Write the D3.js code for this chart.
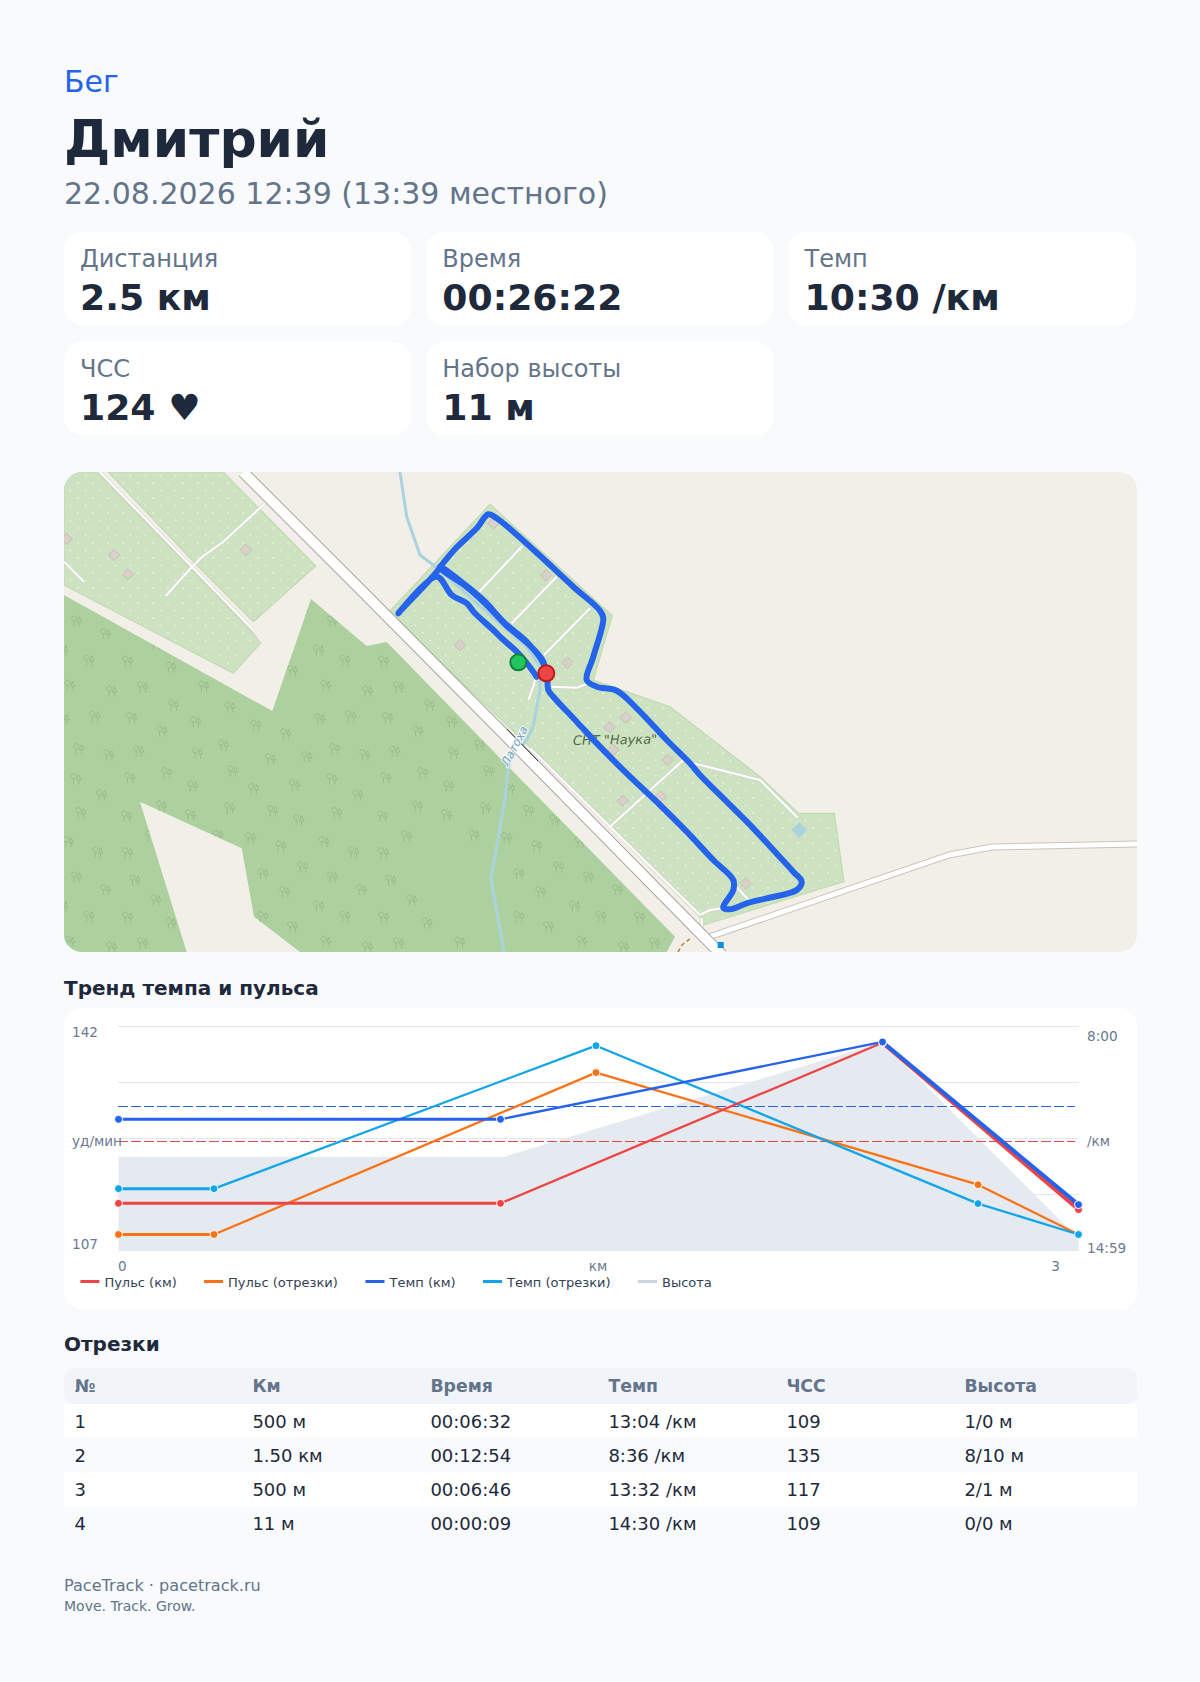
<!DOCTYPE html>
<html lang="ru">
<head>
<meta charset="utf-8">
<script src="https://cdn.jsdelivr.net/npm/d3@7"></script>
<style>
  html, body { margin: 0; padding: 0; background: #f8fafc; }
  svg { display: block; font-family: "DejaVu Sans", sans-serif; }
</style>
</head>
<body>
<div id="page"></div>
<script>
// summary
const sport = "Бег";
const athlete = "Дмитрий";
const startedAt = "22.08.2026 12:39 (13:39 местного)";
const statLabels = ["Дистанция", "Время", "Темп", "ЧСС", "Набор высоты"];
const statValues = ["2.5 км", "00:26:22", "10:30 /км", "124 ♥", "11 м"];

// trend chart
const kmDistance = [0, 1, 2, 2.513];
const pulseByKm = [114, 114, 139.8, 113];
const paceByKm = [654, 654, 509, 814];
const lapDistance = [0, 0.25, 1.25, 2.25, 2.513];
const pulseByLap = [109, 109, 135, 117, 109];
const paceByLap = [784, 784, 516, 812, 870];
const elevationDistance = [0, 1.01, 2, 2.513];
const elevation = [9, 9, 20, 1.15];
const avgPulse = 124;
const avgPace = 630;
const gridTicks = [0, 1, 2, 3, 4];
const legendLabels = ["Пульс (км)", "Пульс (отрезки)", "Темп (км)", "Темп (отрезки)", "Высота"];

// laps table
const lapHeaders = ["№", "Км", "Время", "Темп", "ЧСС", "Высота"];
const lapRows = [
  ["1", "500 м", "00:06:32", "13:04 /км", "109", "1/0 м"],
  ["2", "1.50 км", "00:12:54", "8:36 /км", "135", "8/10 м"],
  ["3", "500 м", "00:06:46", "13:32 /км", "117", "2/1 м"],
  ["4", "11 м", "00:00:09", "14:30 /км", "109", "0/0 м"],
];

// map geometry, in the map's own coordinates
const forest = [[64,595],[64,952],[186.7,952],[140,801.7],[241.7,848.3],[254,916.7],[300,952],[666.7,952],[675,936.7],[500,758],[386.7,642],[366.7,646],[311,599],[272.3,711]];
const allotmentWest = [[64,472],[97,472],[253,633],[260.7,643.3],[233.3,673.3],[64,585]];
const allotmentNorth = [[108.3,472],[223.3,472],[315.7,566],[253.3,621.7],[196.7,565]];
const allotmentMain = [[387.7,613.3],[490,504.3],[612.3,615.7],[593.3,680],[670,706.7],[760,776.7],[798.3,813.3],[834.3,813.3],[844,881.7],[703.3,925],[700,917],[610,826],[530,747],[393,617]];
const highway = [[243,472],[360,589],[500,730],[700,933],[722,955]];
const mainRoad = [[706,938],[949,855],[992,847],[1140,844]];
const tracks = [
  [[100,472],[253.3,630]],
  [[64,561.7],[84,581.7]],
  [[266.7,501.7],[223.3,541.7],[201.7,557.3],[190,569],[165.7,596]],
  [[522.3,546],[479.3,591.7]],
  [[556.7,576.7],[511.7,623.3]],
  [[590,608.3],[544,655]],
  [[551.7,686.7],[576.7,687.7],[586.7,684]],
  [[535,680],[533.3,686.7],[528.3,700]],
  [[530,748.3],[610,826.7],[700,915]],
  [[610,826.7],[683.3,760],[693.3,763.3],[760,780],[797.7,817.7]],
  [[700,915],[710,910],[721.7,908.3]],
  [[701.7,918.3],[702.3,931.7]],
  [[733.3,883.3],[750,901.7]],
];
const stream = [[400,472],[406.7,516.7],[420,555],[440,570],[473,600],[526.7,646.7],[540,666.7],[540,690],[533,726.7],[526.7,740],[510,760],[508,770],[505,799],[491,879],[504,952]];
const buildings = [[66.7,539],[114,555],[128,574.3],[246,550],[493.3,523.3],[546,575.3],[567.3,662.7],[460,645],[625.7,717.7],[609.3,727.3],[613.3,750],[667.7,760],[660.7,796.7],[622.7,800.7],[745.7,883.3]];
const track = [[536.7,676.7],[528.3,665],[516.7,651.7],[501.7,638.3],[493.3,630],[475,613.3],[466.7,603.3],[451.7,595],[436.7,576.7],[398.3,613.3],[435,574],[441.7,565],[456.7,547.3],[476.7,528.3],[488.3,514.3],[496.7,518.3],[513.3,531.7],[541.7,557.3],[573.3,586.7],[600,610.7],[603.3,618.3],[593.3,656.7],[586.7,680],[596.7,686.7],[616.7,690.7],[636.7,708.3],[666.7,740],[690,763.3],[700,775],[726.7,801.7],[753.3,828.3],[773.3,850],[793.3,871.7],[801.7,881.7],[796.7,890],[766.7,898.3],[746.7,903.3],[730,909.3],[723.3,907.7],[733.3,890],[733.3,880],[713.3,860],[686.7,831.7],[660,805],[630,776.7],[600,746.7],[576.7,721.7],[553.3,696.7],[548.3,690],[547.3,680],[543.3,663.3],[526.7,641.7],[505,623.3],[483.3,600],[463.3,583.3],[440,566.7],[441,569],[465,585.7],[485,603.3],[506.7,625.7],[528.3,644],[543.3,661.7],[545,673.3]];
const trackStart = [518.3,662.3];
const trackEnd = [546.3,673.3];
// one 256-unit tile of the forest symbols
const treeTile = [[12.7,5],[41.7,17.7],[25,44],[63.7,45],[107,51],[6,69.3],[47.7,75],[78.7,71],[140,70],[109.7,89],[166,91],[31,100],[67.7,101.7],[0,102.7],[131.7,105.7],[192,109],[98,115],[222,117.7],[14.7,132.7],[45,138.7],[74.7,135],[133.7,137],[159.7,129],[206.7,142.7],[242.7,140.7],[12,162.7],[66,161.7],[102.7,156.7],[168.7,155],[128.7,170],[189.7,172.7],[230.7,169],[37.7,179],[16.7,196.7],[62.7,200],[97.7,190],[126.7,198.7],[165.7,192],[208.7,194.7],[234.7,203.7],[4.3,225.7],[154,219.3],[186.7,221.7],[216.7,230],[33.7,236],[63.7,236.7],[86.7,220],[238.7,250.7],[199,1.7],[221,19.7],[71,8],[92,28],[199,44.7],[228.7,54.7],[255,34]];

const colors = { pulse: "#ef4444", pulseLap: "#f97316", pace: "#2563eb", paceLap: "#0ea5e9", elevation: "#cbd5e1" };
const ink = "#1e293b";
const muted = "#64748b";

const svg = d3.select("#page").append("svg").attr("width", 1200).attr("height", 1682);
svg.append("rect").attr("width", 1200).attr("height", 1682).attr("fill", "#f8fafc");

function label(parent, x, y, text, size, fill, weight) {
  return parent.append("text").attr("x", x).attr("y", y).attr("font-size", size)
    .attr("fill", fill).attr("font-weight", weight || "normal").text(text);
}

function drawHeader() {
  label(svg, 64, 91.5, sport, 30, colors.pace);
  label(svg, 64, 157, athlete, 52, ink, "bold");
  label(svg, 64, 204, startedAt, 30, muted);

  const col = d3.scaleBand().domain(d3.range(3)).range([64, 1135.6]).paddingInner(0.0422);
  statLabels.forEach((name, i) => {
    const g = svg.append("g").attr("transform", `translate(${col(i % 3)},${i < 3 ? 232 : 342})`);
    g.append("rect").attr("width", col.bandwidth()).attr("height", 93).attr("rx", 18).attr("fill", "#fff");
    label(g, 16, 35, name, 24, muted);
    label(g, 16, 78, statValues[i], 36.2, ink, "bold");
  });
}

function drawMap() {
  const x = d3.scaleLinear().domain([64, 1137]).range([64, 1137]);
  const y = d3.scaleLinear().domain([472, 952]).range([472, 952]);
  const line = d3.line().x((d) => x(d[0])).y((d) => y(d[1]));
  const shape = (pts) => line(pts) + "Z";

  const defs = svg.append("defs");
  defs.append("clipPath").attr("id", "map-clip").append("rect")
    .attr("x", 64).attr("y", 472).attr("width", 1073).attr("height", 480).attr("rx", 18);
  defs.append("clipPath").attr("id", "forest-clip").append("path").attr("d", shape(forest));
  const dots = defs.append("pattern").attr("id", "allotment-dots").attr("patternUnits", "userSpaceOnUse")
    .attr("width", 15).attr("height", 15);
  dots.append("rect").attr("width", 15).attr("height", 15).attr("fill", "#cde2c0");
  [[3, 3], [10.5, 10.5]].forEach((p) => {
    dots.append("rect").attr("x", p[0] - 0.8).attr("y", p[1] - 0.8).attr("width", 1.6).attr("height", 1.6).attr("fill", "#eaf4e3");
  });

  const g = svg.append("g").attr("clip-path", "url(#map-clip)");
  g.append("rect").attr("x", 64).attr("y", 472).attr("width", 1073).attr("height", 480).attr("fill", "#f2efe9");

  g.append("path").attr("d", shape(forest)).attr("fill", "#add19e");
  const trees = g.append("g").attr("clip-path", "url(#forest-clip)").attr("fill", "none")
    .attr("stroke", "#93b887").attr("stroke-width", 0.8);
  d3.range(-1, 3).forEach((i) => d3.range(-1, 2).forEach((j) => {
    trees.selectAll(null).data(treeTile).join("path")
      .attr("transform", (d) => `translate(${x(64 + d[0] + i * 256)},${y(616.67 + d[1] + j * 256)})`)
      .attr("d", "M-2.5,5V-0.5M-2.5,-0.5a2.6,2.6 0 1 0 -0.01,0M2.8,5V0.5M2.8,-5L0.6,0.5H5Z");
  }));

  [allotmentWest, allotmentNorth, allotmentMain].forEach((pts) => {
    g.append("path").attr("d", shape(pts)).attr("fill", "url(#allotment-dots)")
      .attr("stroke", "#c2dab2").attr("stroke-width", 1.2);
  });

  g.selectAll(".building").data(buildings).join("rect").attr("class", "building")
    .attr("x", -4).attr("y", -4).attr("width", 8).attr("height", 8)
    .attr("transform", (d) => `translate(${x(d[0])},${y(d[1])}) rotate(45)`)
    .attr("fill", "#d9d0c9").attr("stroke", "#c6b9ae").attr("stroke-width", 0.8);

  g.append("path").attr("d", line(stream)).attr("fill", "none").attr("stroke", "#aad3df").attr("stroke-width", 3);
  g.append("rect").attr("x", -5.5).attr("y", -5.5).attr("width", 11).attr("height", 11).attr("fill", "#aad3df")
    .attr("transform", `translate(${x(799.3)},${y(830)}) rotate(45)`);

  const stroked = (d, w, c) => g.append("path").attr("d", line(d)).attr("fill", "none").attr("stroke", c)
    .attr("stroke-width", w).attr("stroke-linejoin", "round");
  tracks.forEach((t) => stroked(t, 3.2, "#d6d2cc"));
  tracks.forEach((t) => stroked(t, 2, "#fff"));
  stroked(mainRoad, 7, "#c8c5bf");
  stroked(mainRoad, 5, "#fff");
  stroked(highway, 12, "#a9a69f");
  stroked(highway, 10, "#fff");
  stroked([[504, 733], [535, 765]], 1, "#333").attr("transform", "translate(3,-4)");
  stroked([[678, 952], [682, 945], [692, 937]], 1.6, "#b9863a").attr("stroke-dasharray", "4 3");
  g.append("rect").attr("x", x(717.7)).attr("y", y(942)).attr("width", 6).attr("height", 6).attr("fill", "#0092da");

  g.append("text").attr("transform", `translate(${x(518)},${y(748)}) rotate(-62)`).attr("font-size", 11.5)
    .attr("text-anchor", "middle").attr("font-style", "italic").attr("fill", "#6d9fc4")
    .attr("stroke", "#f2f6f2").attr("stroke-width", 2).attr("paint-order", "stroke").text("Латоха");
  g.append("text").attr("transform", `translate(${x(573)},${y(745)}) rotate(-1)`).attr("font-size", 13)
    .attr("font-style", "italic").attr("fill", "#4f6b47").text("СНТ \"Наука\"");

  const trackLine = d3.line().x((d) => x(d[0])).y((d) => y(d[1])).curve(d3.curveCatmullRom.alpha(0.5));
  g.append("path").attr("d", trackLine(track)).attr("fill", "none").attr("stroke", colors.pace)
    .attr("stroke-width", 6).attr("stroke-linejoin", "round").attr("stroke-linecap", "round");
  g.append("circle").attr("cx", x(trackStart[0])).attr("cy", y(trackStart[1])).attr("r", 8)
    .attr("fill", "#22c55e").attr("stroke", "#15803d").attr("stroke-width", 2);
  g.append("circle").attr("cx", x(trackEnd[0])).attr("cy", y(trackEnd[1])).attr("r", 8)
    .attr("fill", "#ef4444").attr("stroke", "#b91c1c").attr("stroke-width", 2);
}

function drawChart() {
  label(svg, 64, 995, "Тренд темпа и пульса", 20, ink, "bold");
  svg.append("rect").attr("x", 64).attr("y", 1008).attr("width", 1073).attr("height", 301).attr("rx", 18).attr("fill", "#fff");

  const x = d3.scaleLinear().domain([0, 2.513]).range([118.5, 1078.5]);
  const yGrid = d3.scaleLinear().domain([0, 4]).range([1026.5, 1250.5]);
  const yPulse = d3.scaleLinear().domain([142.4, 106.43]).range([1026.5, 1250.5]);
  const yPace = d3.scaleLinear().domain([480, 900]).range([1026.5, 1250.5]);
  const yElevation = d3.scaleLinear().domain([0, 21.5]).range([1250.5, 1026.5]);

  svg.selectAll(".grid").data(gridTicks).join("line").attr("class", "grid")
    .attr("x1", 118).attr("x2", 1079).attr("y1", yGrid).attr("y2", yGrid)
    .attr("stroke", "#e2e8f0").attr("stroke-width", 1);

  const area = d3.area().x((d, i) => x(elevationDistance[i])).y0(1250.5).y1((d) => yElevation(d));
  // the band is a flat tint in the original, the grid does not show through it
  svg.append("path").attr("d", area(elevation)).attr("fill", "#e5eaf0");

  const dashed = (yValue, color) => {
    const py = Math.floor(yValue) + 0.5;
    svg.append("line").attr("x1", 118).attr("x2", 1075).attr("y1", py).attr("y2", py)
      .attr("stroke", color).attr("stroke-dasharray", "10 3");
  };
  dashed(yPace(avgPace), colors.pace);
  dashed(yPulse(avgPulse), colors.pulse);

  const series = [
    { xs: lapDistance, ys: pulseByLap, scale: yPulse, color: colors.pulseLap, byKm: false },
    { xs: lapDistance, ys: paceByLap, scale: yPace, color: colors.paceLap, byKm: false },
    { xs: kmDistance, ys: pulseByKm, scale: yPulse, color: colors.pulse, byKm: true },
    { xs: kmDistance, ys: paceByKm, scale: yPace, color: colors.pace, byKm: true },
  ];
  series.forEach((s) => {
    const pts = s.xs.map((d, i) => [x(d), s.scale(s.ys[i])]);
    // flat runs and the closing km segment come out heavier in the original
    d3.pairs(pts).forEach(([a, b], i) => {
      const flat = a[1] === b[1];
      const closing = s.byKm && i === pts.length - 2;
      svg.append("line").attr("x1", a[0]).attr("y1", a[1]).attr("x2", b[0]).attr("y2", b[1])
        .attr("stroke", s.color).attr("stroke-width", closing ? 4 : flat ? 3 : 2.3);
    });
  });
  series.forEach((s) => {
    svg.selectAll(null).data(s.xs).join("circle")
      .attr("cx", (d) => x(d)).attr("cy", (d, i) => s.scale(s.ys[i])).attr("r", 4)
      .attr("fill", s.color).attr("stroke", "#fff").attr("stroke-width", 1);
  });

  const axisColor = "#6b7a90";
  label(svg, 72, 1037, "142", 13.6, axisColor);
  label(svg, 72, 1249, "107", 13.6, axisColor);
  label(svg, 72, 1145.5, "уд/мин", 13.6, axisColor);
  label(svg, 1087, 1041, "8:00", 13.6, axisColor);
  label(svg, 1087, 1145.5, "/км", 13.6, axisColor);
  label(svg, 1087, 1253, "14:59", 13.6, axisColor);
  label(svg, 118, 1271, "0", 13.6, axisColor);
  label(svg, 598, 1271, "км", 13.6, axisColor).attr("text-anchor", "middle");
  label(svg, 1060, 1271, "3", 13.6, axisColor).attr("text-anchor", "end");

  const legendColors = [colors.pulse, colors.pulseLap, colors.pace, colors.paceLap, colors.elevation];
  const legendX = d3.scaleOrdinal().domain(legendLabels).range([80.4, 204, 365.5, 483, 638]);
  legendLabels.forEach((name, i) => {
    svg.append("rect").attr("x", legendX(name)).attr("y", 1280).attr("width", 19).attr("height", 3).attr("fill", legendColors[i]);
    label(svg, legendX(name) + 24, 1287, name, 13, "#334155");
  });
}

function drawLaps() {
  label(svg, 64, 1351, "Отрезки", 20, ink, "bold");
  const col = d3.scaleLinear().domain([0, 1]).range([74.4, 252.4]);
  const row = d3.scaleLinear().domain([0, 1]).range([1404, 1438]);

  svg.append("rect").attr("x", 64).attr("y", 1368).attr("width", 1073).attr("height", 36).attr("rx", 10).attr("fill", "#f1f5f9");
  lapHeaders.forEach((h, i) => label(svg, col(i), 1392, h, 17.3, muted, "bold"));

  lapRows.forEach((cells, r) => {
    if (r % 2 === 0) {
      svg.append("rect").attr("x", 64).attr("y", row(r)).attr("width", 1073).attr("height", 34).attr("fill", "#fff");
    }
    cells.forEach((c, i) => label(svg, col(i), row(r) + 24, c, 18, ink));
  });
}

function drawFooter() {
  label(svg, 64, 1591, "PaceTrack · pacetrack.ru", 16.1, muted);
  label(svg, 64, 1611, "Move. Track. Grow.", 14, muted);
}

drawHeader();
drawMap();
drawChart();
drawLaps();
drawFooter();
</script>
</body>
</html>
